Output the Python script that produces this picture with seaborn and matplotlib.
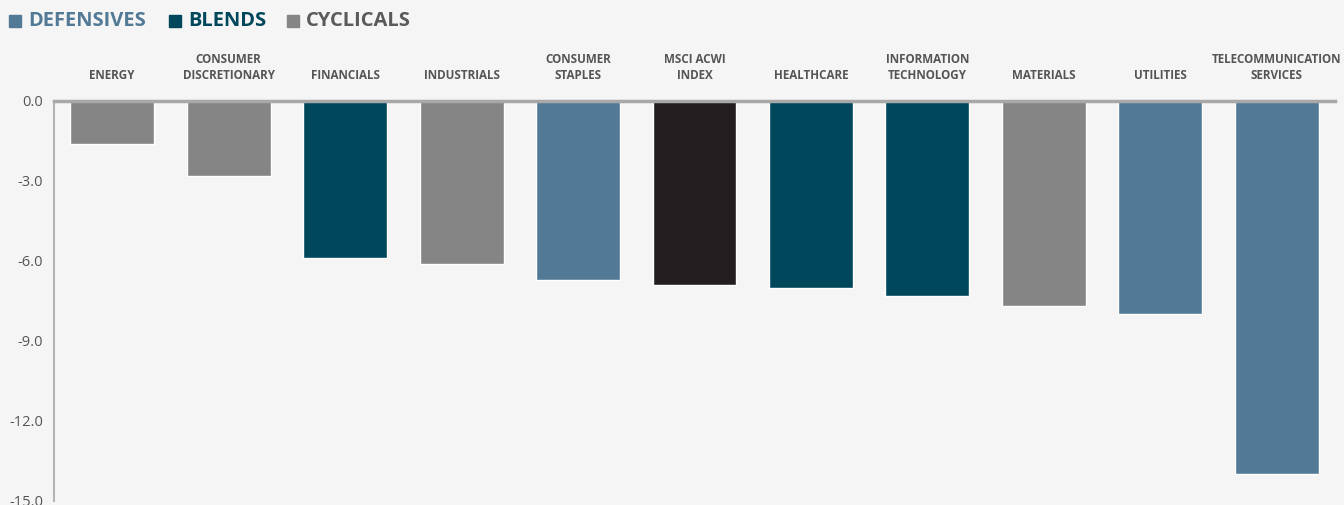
import matplotlib
matplotlib.use("Agg")
import matplotlib.pyplot as plt
import seaborn as sns
import pandas as pd
from matplotlib.transforms import blended_transform_factory

categories = ["ENERGY", "CONSUMER\nDISCRETIONARY", "FINANCIALS", "INDUSTRIALS",
              "CONSUMER\nSTAPLES", "MSCI ACWI\nINDEX", "HEALTHCARE",
              "INFORMATION\nTECHNOLOGY", "MATERIALS", "UTILITIES",
              "TELECOMMUNICATION\nSERVICES"]
values = [-1.6, -2.8, -5.9, -6.1, -6.7, -6.9, -7.0, -7.3, -7.7, -8.0, -14.0]
groups = ["Cyclicals", "Cyclicals", "Blends", "Cyclicals", "Defensives", "Index",
          "Blends", "Blends", "Cyclicals", "Defensives", "Defensives"]
legend_labels = ["DEFENSIVES", "BLENDS", "CYCLICALS"]
yticks = [0.0, -3.0, -6.0, -9.0, -12.0, -15.0]

palette = {"Defensives": "#527a96", "Blends": "#00475c",
           "Cyclicals": "#858585", "Index": "#231f20"}

df = pd.DataFrame({"cat": categories, "val": values, "grp": groups})

sns.set_theme(style="white")
plt.rcParams["font.family"] = ["Open Sans", "DejaVu Sans"]
bg = "#f5f5f5"
fig = plt.figure(figsize=(13.44, 5.05), dpi=100, facecolor=bg)
ax = fig.add_axes([54 / 1344, 4 / 505, (1335 - 54) / 1344, (501 - 101) / 505])
ax.set_facecolor(bg)

sns.barplot(data=df, x="cat", y="val", hue="grp", palette=palette,
            dodge=False, width=0.72, legend=False, ax=ax, saturation=1)

ax.set_ylim(-15, 0)
ax.set_xlim(-0.5, len(categories) - 0.5)
ax.set_yticks(yticks)
ax.set_yticklabels([f"{t:.1f}" for t in yticks], fontsize=10.5, color="#555555")
ax.tick_params(axis="y", length=0, pad=8)
ax.set_xticks([])
ax.set_xlabel("")
ax.set_ylabel("")
for s in ["right", "bottom"]:
    ax.spines[s].set_visible(False)
ax.spines["left"].set_color("#b5b5b5")
ax.spines["left"].set_linewidth(1.5)
ax.spines["top"].set_color("#a8a8a8")
ax.spines["top"].set_linewidth(2.5)

trans = blended_transform_factory(ax.transData, ax.transAxes)
for i, c in enumerate(categories):
    ax.text(i, 1.048, c, transform=trans, ha="center", va="bottom",
            fontsize=8.4, fontweight="bold", color="#555555",
            linespacing=1.25)

# legend
leg_colors = [palette["Defensives"], palette["Blends"], palette["Cyclicals"]]
txt_colors = [palette["Defensives"], palette["Blends"], "#5a5a5a"]
xs = [9, 169, 287]
for lab, col, tcol, x0 in zip(legend_labels, leg_colors, txt_colors, xs):
    fig.patches.append(plt.Rectangle((x0 / 1344, (505 - 27) / 505), 12 / 1344, 12 / 505,
                                     transform=fig.transFigure, color=col))
    fig.text((x0 + 19) / 1344, (505 - 21) / 505, lab, fontsize=14.5,
             fontweight="bold", color=tcol, va="center", ha="left")

fig.savefig("out.png", dpi=100, facecolor=bg)
